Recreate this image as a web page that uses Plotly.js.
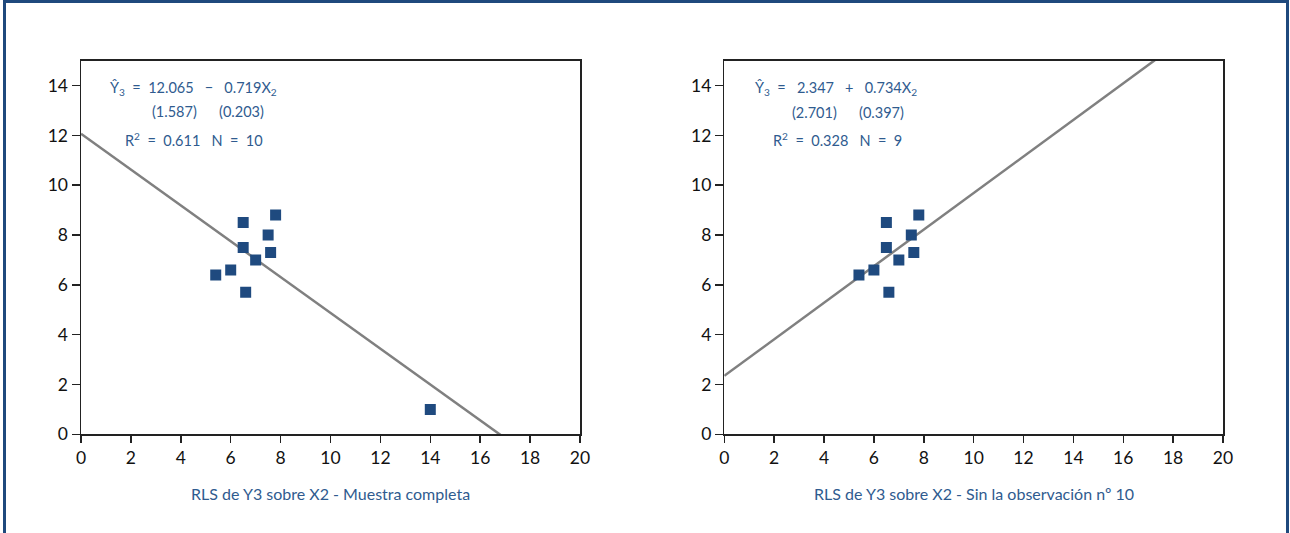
<!DOCTYPE html>
<html>
<head>
<meta charset="utf-8">
<script src="https://cdn.plot.ly/plotly-3.0.1.min.js"></script>
<style>
  html, body { margin: 0; padding: 0; background: #ffffff; }
  #wrap { position: relative; width: 1290px; height: 533px; overflow: hidden; }
  #chart { position: absolute; left: 0; top: 0; width: 1290px; height: 533px; }
  #frame { position: absolute; left: 3px; top: 0; width: 1286px; height: 560px; box-sizing: border-box;
           border: 3px solid #1f497d; border-bottom: none; pointer-events: none; z-index: 10; }
</style>
</head>
<body>
<div id="wrap">
  <div id="chart"></div>
  <div id="frame"></div>
</div>
<script>
// Data
const x2Full = [6.5, 7.8, 7.5, 6.5, 7.6, 7.0, 6.0, 5.4, 6.6, 14.0];
const y3Full = [8.5, 8.8, 8.0, 7.5, 7.3, 7.0, 6.6, 6.4, 5.7, 1.0];
const x2Sub  = [6.5, 7.8, 7.5, 6.5, 7.6, 7.0, 6.0, 5.4, 6.6];
const y3Sub  = [8.5, 8.8, 8.0, 7.5, 7.3, 7.0, 6.6, 6.4, 5.7];
// Fitted lines (intercept, slope) as printed on the chart
const fitFull = [12.065, -0.719];
const fitSub  = [2.347, 0.734];
const lineX = [0, 20];
const xTicks = [0, 2, 4, 6, 8, 10, 12, 14, 16, 18, 20];
const yTicks = [0, 2, 4, 6, 8, 10, 12, 14];
const titleFull = "RLS de Y3 sobre X2 - Muestra completa";
const titleSub  = "RLS de Y3 sobre X2 - Sin la observación nº 10";

const W = 1290, H = 533;
const px = v => v / W;
const py = v => (H - v) / H;

const markerColor = '#1f4a7f';
const lineColor = '#808080';
const textBlue = '#2f5b8f';
const FONT = 'Lato, "Open Sans", sans-serif';

const fitY = (f) => lineX.map(x => f[0] + f[1] * x);

const traces = [
  { x: lineX, y: fitY(fitFull), xaxis: 'x', yaxis: 'y', mode: 'lines',
    line: { color: lineColor, width: 2.5 }, hoverinfo: 'skip', showlegend: false },
  { x: x2Full, y: y3Full, xaxis: 'x', yaxis: 'y', mode: 'markers',
    marker: { symbol: 'square', size: 11, color: markerColor }, showlegend: false },
  { x: lineX, y: fitY(fitSub), xaxis: 'x2', yaxis: 'y2', mode: 'lines',
    line: { color: lineColor, width: 2.5 }, hoverinfo: 'skip', showlegend: false },
  { x: x2Sub, y: y3Sub, xaxis: 'x2', yaxis: 'y2', mode: 'markers',
    marker: { symbol: 'square', size: 11, color: markerColor }, showlegend: false }
];

const axX = (dom) => ({
  domain: dom, range: [0, 20], tickvals: xTicks, ticktext: xTicks.map(String),
  showgrid: false, zeroline: false, showline: true, linecolor: '#222', linewidth: 1.5,
  mirror: true, ticks: 'outside', ticklen: 7, tickwidth: 1.5, tickcolor: '#222',
  tickfont: { family: FONT, size: 17.5, color: '#111' }, fixedrange: true
});
const axY = (anchor) => ({
  domain: [py(434.3), py(60.7)], range: [0, 15], tickvals: yTicks, ticktext: yTicks.map(String),
  anchor: anchor,
  showgrid: false, zeroline: false, showline: true, linecolor: '#222', linewidth: 1.5,
  mirror: true, ticks: 'outside', ticklen: 8, tickwidth: 1.5, tickcolor: '#222',
  tickfont: { family: FONT, size: 17.5, color: '#111' }, fixedrange: true
});

const nb = s => s.replace(/ /g, '\u00a0');
const ann = (text, xc, yc, size) => ({
  text: text, xref: 'paper', yref: 'paper', x: px(xc), y: py(yc),
  xanchor: 'center', yanchor: 'middle', showarrow: false,
  font: { family: FONT, size: size || 14.5, color: textBlue }
});

const annotations = [
  ann(nb('Ŷ<sub>3</sub>  =  12.065   −   0.719X<sub>2</sub>'), 193.5, 88),
  ann(nb('(1.587)      (0.203)'), 208.5, 111),
  ann(nb('R<sup>2</sup>  =  0.611   N  =  10'), 194, 139),
  ann(nb('Ŷ<sub>3</sub>  =   2.347   +   0.734X<sub>2</sub>'), 835.5, 88),
  ann(nb('(2.701)      (0.397)'), 848, 112),
  ann(nb('R<sup>2</sup>  =  0.328   N  =  9'), 837, 140),
  ann(titleFull, 330.5, 493, 16),
  ann(titleSub, 973.5, 493, 16)
];

const layout = {
  width: W, height: H,
  margin: { l: 0, r: 0, t: 0, b: 0 },
  paper_bgcolor: '#ffffff', plot_bgcolor: '#ffffff',
  showlegend: false,
  xaxis: axX([px(81), px(580)]),
  yaxis: axY('x'),
  xaxis2: Object.assign(axX([px(724.3), px(1223)]), { anchor: 'y2' }),
  yaxis2: axY('x2'),
  annotations: annotations
};
layout.xaxis.anchor = 'y';

Plotly.newPlot('chart', traces, layout, { displayModeBar: false, staticPlot: true });
</script>
</body>
</html>
